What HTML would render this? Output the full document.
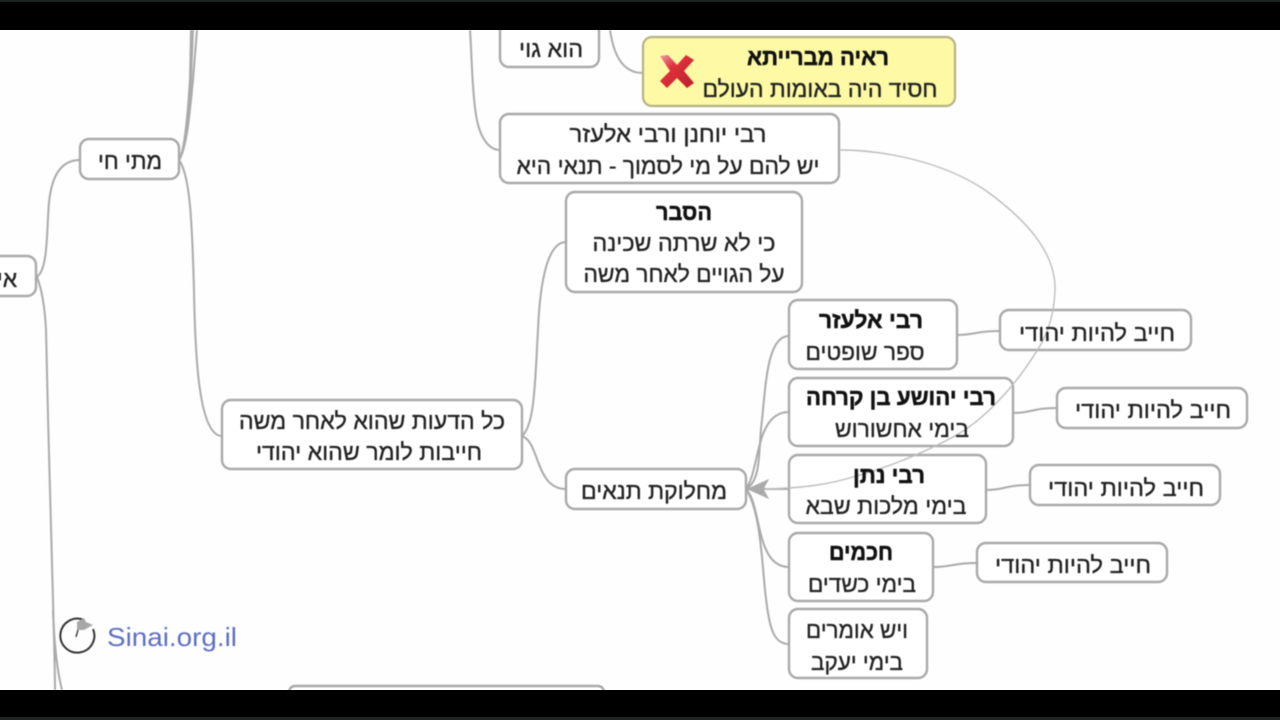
<!DOCTYPE html>
<html><head><meta charset="utf-8"><style>
html,body{margin:0;padding:0;background:#000;width:1280px;height:720px;overflow:hidden}
svg{display:block}
.n{fill:#fff;stroke:#a9a9a9;stroke-width:2.4}
.c{fill:none;stroke:#aaa;stroke-width:2}
text{font-family:"Liberation Sans","Noto Sans CJK SC",sans-serif;font-size:23px;fill:#222;stroke:#222;stroke-width:.35px;text-anchor:middle;direction:rtl;unicode-bidi:plaintext}
.b{font-weight:bold;fill:#111;stroke:#111;stroke-width:.5px}
</style></head><body>
<svg width="1280" height="720" viewBox="0 0 1280 720" xmlns="http://www.w3.org/2000/svg">
<defs><linearGradient id="x" x1="0" y1="0" x2="1" y2="1"><stop offset="0" stop-color="#e9a0a4"/><stop offset=".35" stop-color="#e0303c"/><stop offset="1" stop-color="#b8222a"/></linearGradient></defs>
<rect width="1280" height="720" fill="#000"/>
<rect y="30" width="1280" height="660" fill="#fefefe"/>
<g style="filter:blur(.5px)">
<path class="c" d="M36 277C50 272 46 215 50 195C54 170 65 160 80 160"/>
<path class="c" d="M37 277C42 290 45 310 46 330C48 420 51 540 53 600C54 640 55 670 55 690"/>
<path class="c" d="M53 610C54 640 57 670 62 690" stroke-width="1.5"/>
<path class="c" d="M179 160C186 150 189 110 191 80L193 30"/>
<path class="c" d="M179 160C187 148 190 110 193 80L197 30"/>
<path class="c" d="M179 160C185 150 188 110 190 80L191 30" stroke-width="1.5"/>
<path class="c" d="M179 160C190 175 192 220 194 290C195 350 198 436 222 436"/>
<path class="c" d="M470 30C472 60 472 90 476 115C480 140 490 150 500 150"/>
<path class="c" d="M610 30C613 50 620 73 643 73"/>
<path class="c" d="M522 436C535 425 535 380 538 330C540 280 548 242 566 242"/>
<path class="c" d="M522 436C540 442 535 489 566 489"/>
<path class="c" d="M746 489C762 480 758 450 762 420C766 380 768 336 789 336"/>
<path class="c" d="M746 489C760 470 755 412 789 412"/>
<path class="c" d="M746 489H789" stroke-width="2.4"/>
<path class="c" d="M746 489C762 505 755 567 789 567"/>
<path class="c" d="M746 489C760 510 762 560 765 590C769 625 772 644 789 644"/>
<path class="c" d="M957 335C975 335 975 331 1000 331"/>
<path class="c" d="M1013 413C1032 413 1032 408 1057 408"/>
<path class="c" d="M986 490C1005 490 1005 485 1030 485"/>
<path class="c" d="M933 567C952 567 952 563 977 563"/>
<rect class="n" x="500" y="10" width="99" height="57" rx="9"/>
<rect x="643" y="37" width="312" height="69" rx="9" fill="#fdf9a4" stroke="#b5b184" stroke-width="2.2"/>
<rect class="n" x="500" y="114" width="339" height="69" rx="9"/>
<rect class="n" x="566" y="192" width="236" height="100" rx="9"/>
<rect class="n" x="789" y="300" width="168" height="69" rx="9"/>
<rect class="n" x="789" y="378" width="224" height="68" rx="9"/>
<rect class="n" x="789" y="455" width="197" height="68" rx="9"/>
<rect class="n" x="789" y="533" width="144" height="68" rx="9"/>
<rect class="n" x="789" y="609" width="138" height="69" rx="9"/>
<rect class="n" x="1000" y="310" width="191" height="40" rx="9"/>
<rect class="n" x="1057" y="388" width="190" height="40" rx="9"/>
<rect class="n" x="1030" y="465" width="190" height="40" rx="9"/>
<rect class="n" x="977" y="543" width="190" height="39" rx="9"/>
<rect class="n" x="566" y="469" width="180" height="40" rx="9"/>
<rect class="n" x="222" y="400" width="300" height="69" rx="9"/>
<rect class="n" x="80" y="139" width="99" height="40" rx="9"/>
<rect class="n" x="-40" y="256" width="76" height="40" rx="9"/>
<rect class="n" x="289" y="686" width="315" height="40" rx="6"/>
<path d="M839 150C880 150 940 160 985 190C1030 222 1056 255 1055 290C1054 320 1045 340 1033 357C1015 385 985 420 953 437C920 455 880 470 853 477C830 484 805 488 765 489" fill="none" stroke="#bdbdbd" stroke-width="1.4"/>
<path d="M748 489L768 480L763 489L768 498Z" fill="#aaa" stroke="#aaa"/>
<path d="M660 56L668 55L677 65L686 55L694 60L684 71L694 83L687 88L677 78L667 88L660 81L670 71Z" fill="url(#x)"/>
<text x="551" y="57" textLength="64" lengthAdjust="spacingAndGlyphs">הוא גוי</text>
<text class="b" x="818" y="65" textLength="142" lengthAdjust="spacingAndGlyphs">ראיה מברייתא</text>
<text x="820" y="97" textLength="235" lengthAdjust="spacingAndGlyphs">חסיד היה באומות העולם</text>
<text x="668" y="142" textLength="197" lengthAdjust="spacingAndGlyphs">רבי יוחנן ורבי אלעזר</text>
<text x="668" y="174" textLength="303" lengthAdjust="spacingAndGlyphs">יש להם על מי לסמוך - תנאי היא</text>
<text class="b" x="684" y="220" textLength="56" lengthAdjust="spacingAndGlyphs">הסבר</text>
<text x="684" y="251" textLength="183" lengthAdjust="spacingAndGlyphs">כי לא שרתה שכינה</text>
<text x="684" y="282" textLength="201" lengthAdjust="spacingAndGlyphs">על הגויים לאחר משה</text>
<text class="b" x="871" y="328" textLength="104" lengthAdjust="spacingAndGlyphs">רבי אלעזר</text>
<text x="865" y="360" textLength="119" lengthAdjust="spacingAndGlyphs">ספר שופטים</text>
<text class="b" x="901" y="405" textLength="190" lengthAdjust="spacingAndGlyphs">רבי יהושע בן קרחה</text>
<text x="902" y="437" textLength="134" lengthAdjust="spacingAndGlyphs">בימי אחשורוש</text>
<text class="b" x="889" y="483" textLength="72" lengthAdjust="spacingAndGlyphs">רבי נתן</text>
<text x="886" y="514" textLength="161" lengthAdjust="spacingAndGlyphs">בימי מלכות שבא</text>
<text class="b" x="861" y="560" textLength="64" lengthAdjust="spacingAndGlyphs">חכמים</text>
<text x="862" y="592" textLength="108" lengthAdjust="spacingAndGlyphs">בימי כשדים</text>
<text x="857" y="638" textLength="102" lengthAdjust="spacingAndGlyphs">ויש אומרים</text>
<text x="857" y="670" textLength="92" lengthAdjust="spacingAndGlyphs">בימי יעקב</text>
<text x="1097" y="341" textLength="156" lengthAdjust="spacingAndGlyphs">חייב להיות יהודי</text>
<text x="1153" y="418" textLength="156" lengthAdjust="spacingAndGlyphs">חייב להיות יהודי</text>
<text x="1126" y="496" textLength="156" lengthAdjust="spacingAndGlyphs">חייב להיות יהודי</text>
<text x="1073" y="573" textLength="156" lengthAdjust="spacingAndGlyphs">חייב להיות יהודי</text>
<text x="654" y="499" textLength="146" lengthAdjust="spacingAndGlyphs">מחלוקת תנאים</text>
<text x="372" y="429" textLength="266" lengthAdjust="spacingAndGlyphs">כל הדעות שהוא לאחר משה</text>
<text x="369" y="460" textLength="226" lengthAdjust="spacingAndGlyphs">חייבות לומר שהוא יהודי</text>
<text x="130" y="169" textLength="64" lengthAdjust="spacingAndGlyphs">מתי חי</text>
<text x="7" y="287">אי</text>
<path d="M84 620A17 17 0 1 0 93 629" fill="none" stroke="#333" stroke-width="2"/>
<path d="M76 637L78 630" stroke="#444" stroke-width="1.5"/>
<path d="M77 630L77 622L84 618L86 622L93 625L84 630Z" fill="#a8a8a8"/>
<text x="172" y="646" textLength="130" lengthAdjust="spacingAndGlyphs" style="fill:#5f6fc4;stroke:none;font-size:26px;direction:ltr">Sinai.org.il</text>
</g>
<rect y="0" width="1280" height="30" fill="#000"/>
<rect y="0" width="1280" height="2" fill="#1a2422"/>
<rect y="690" width="1280" height="30" fill="#000"/>
<rect y="717" width="1280" height="3" fill="#1e2624"/>
</svg>
</body></html>
